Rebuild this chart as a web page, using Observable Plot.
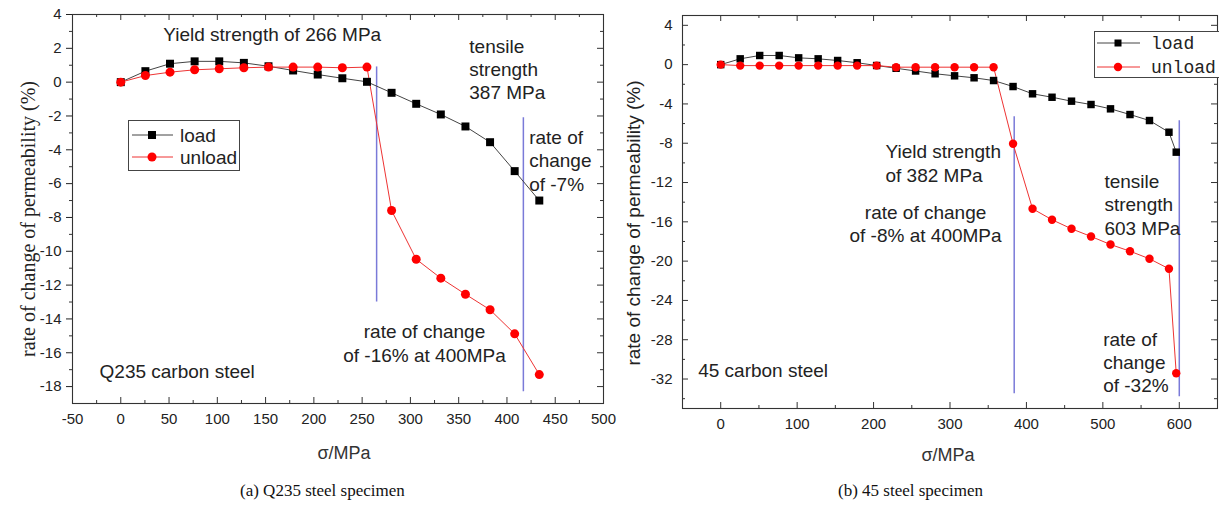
<!DOCTYPE html>
<html><head><meta charset="utf-8">
<script src="https://cdn.jsdelivr.net/npm/d3@7"></script>
<script src="https://cdn.jsdelivr.net/npm/@observablehq/plot@0.6"></script>
<style>
body{margin:0;background:#fff;}
#wrap{position:relative;width:1219px;height:505px;overflow:hidden;background:#fff;}
.panel{position:absolute;top:0;}
.cap{position:absolute;top:481px;font-family:"Liberation Serif","Times New Roman",serif;font-size:17px;line-height:20px;color:#111;white-space:nowrap;}
.legend{position:absolute;overflow:visible;}
</style></head>
<body><div id="wrap">
<div id="left" class="panel" style="left:0"></div>
<div id="right" class="panel" style="left:610px"></div>
<div class="cap" style="left:240px">(a) Q235 steel specimen</div>
<div class="cap" style="left:838px">(b) 45 steel specimen</div>
<svg class="legend" style="left:128px;top:120px" width="112" height="51">
 <rect x="0.5" y="0.5" width="111" height="50" fill="#fff" stroke="#444"/>
 <line x1="4" x2="45" y1="15" y2="15" stroke="#444"/>
 <rect x="20" y="11" width="8" height="8" fill="#000"/>
 <text x="52" y="15" dy="0.35em" font-size="19" font-family="Liberation Sans, Arial, sans-serif" fill="#222">load</text>
 <line x1="4" x2="45" y1="37" y2="37" stroke="#ee3333"/>
 <circle cx="24" cy="37" r="4.5" fill="#ff0000"/>
 <text x="52" y="37" dy="0.35em" font-size="19" font-family="Liberation Sans, Arial, sans-serif" fill="#222">unload</text>
</svg>
<svg class="legend" style="left:1094px;top:31px" width="130" height="47">
 <rect x="0.5" y="0.5" width="132" height="46" fill="#fff" stroke="#444"/>
 <line x1="3" x2="46" y1="12" y2="12" stroke="#444"/>
 <rect x="20.5" y="8.5" width="7" height="7" fill="#000"/>
 <text x="57" y="12" dy="0.35em" font-size="18" font-family="Liberation Mono, Courier New, monospace" fill="#222">load</text>
 <line x1="3" x2="46" y1="36" y2="36" stroke="#ee3333"/>
 <circle cx="24" cy="36" r="4.2" fill="#ff0000"/>
 <text x="57" y="36" dy="0.35em" font-size="18" font-family="Liberation Mono, Courier New, monospace" fill="#222">unload</text>
</svg>
</div>
<script>
// ---------- data: Q235 carbon steel (panel a) ----------
const q235Stress = [0, 25.5, 51, 76.5, 102, 127.5, 153, 178.5, 204, 229.5, 255, 280.5, 306, 331.5, 357, 382.5, 408, 433.5];
const q235Load   = [0, 0.65, 1.09, 1.23, 1.23, 1.14, 0.94, 0.69, 0.45, 0.23, 0.02, -0.63, -1.28, -1.91, -2.62, -3.55, -5.26, -7.0];
const q235Unload = [0, 0.39, 0.59, 0.73, 0.79, 0.85, 0.89, 0.89, 0.89, 0.85, 0.89, -7.59, -10.47, -11.59, -12.54, -13.46, -14.88, -17.29];
// ---------- data: 45 carbon steel (panel b) ----------
const s45Stress = [0, 25.5, 51, 76.5, 102, 127.5, 153, 178.5, 204, 229.5, 255, 280.5, 306, 331.5, 357, 382.5, 408, 433.5, 459, 484.5, 510, 535.5, 561, 586.5, 596];
const s45Load   = [0, 0.59, 0.93, 0.93, 0.69, 0.59, 0.42, 0.19, -0.09, -0.37, -0.65, -0.93, -1.14, -1.34, -1.62, -2.23, -2.97, -3.32, -3.72, -4.06, -4.5, -5.08, -5.69, -6.88, -8.91];
const s45Unload = [0, -0.1, -0.1, -0.1, -0.1, -0.1, -0.1, -0.1, -0.1, -0.26, -0.26, -0.26, -0.26, -0.26, -0.26, -8.06, -14.67, -15.79, -16.71, -17.49, -18.31, -18.99, -19.76, -20.78, -31.41];

// ---------- ticks ----------
const leftXTicks = [-50, 0, 50, 100, 150, 200, 250, 300, 350, 400, 450, 500];
const leftXMinor = [-25, 25, 75, 125, 175, 225, 275, 325, 375, 425, 475];
const leftYTicks = [-18, -16, -14, -12, -10, -8, -6, -4, -2, 0, 2, 4];
const leftYMinor = [-17, -15, -13, -11, -9, -7, -5, -3, -1, 1, 3];
const rightXTicks = [0, 100, 200, 300, 400, 500, 600];
const rightXMinor = [50, 150, 250, 350, 450, 550];
const rightYTicks = [-32, -28, -24, -20, -16, -12, -8, -4, 0, 4];
const rightYMinor = [-34, -30, -26, -22, -18, -14, -10, -6, -2, 2];

// ---------- guide lines and notes ----------
const leftGuides  = [{x: 265, y1: 0.9, y2: -13}, {x: 417, y1: -2.1, y2: -18.3}];
const rightGuides = [{x: 384, y1: -5.3, y2: -33.5}, {x: 600, y1: -5.7, y2: -33.8}];
const leftNotesStart = [
  {x: 44, y: 2.88, text: "Yield strength of 266 MPa"},
  {x: 361, y: 0.81, text: "tensile\nstrength\n387 MPa"},
  {x: 423, y: -4.59, text: "rate of\nchange\nof -7%"},
  {x: -22, y: -17.05, text: "Q235 carbon steel"}
];
const leftNotesMiddle = [{x: 314.6, y: -15.39, text: "rate of change\nof -16% at 400MPa"}];
const rightNotesStart = [
  {x: 215.6, y: -9.96, text: "Yield strength\nof 382 MPa"},
  {x: 502, y: -14.17, text: "tensile\nstrength\n603 MPa"},
  {x: 500.4, y: -30.22, text: "rate of\nchange\nof -32%"},
  {x: -29.5, y: -31.06, text: "45 carbon steel"}
];
const rightNotesMiddle = [{x: 268, y: -16.12, text: "rate of change\nof -8% at 400MPa"}];

const yTitle = "rate of change of permeability (%)";
const xTitle = "σ/MPa";

const SANS = "'Liberation Sans', Arial, sans-serif";
const SERIF = "'Liberation Serif', 'Times New Roman', serif";
const BLUE = "#7a7ad8";
const rows = (xs, ys) => xs.map((s, i) => ({s, v: ys[i]}));

function panel(cfg) {
  const innerW = cfg.width - cfg.ml - cfg.mr;
  const innerH = cfg.height - cfg.mt - cfg.mb;
  const tk = {stroke: "#333", strokeWidth: 1};
  const load = rows(cfg.stress, cfg.load), unload = rows(cfg.stress, cfg.unload);
  const marks = [
    Plot.frame({stroke: "#333", strokeWidth: 1.1}),
    // bottom & top inward ticks
    Plot.ruleX(cfg.xTicks, {x: d => d, insetTop: innerH - 6, ...tk}),
    Plot.ruleX(cfg.xMinor, {x: d => d, insetTop: innerH - 3, ...tk}),
    Plot.ruleX(cfg.xTicks, {x: d => d, insetBottom: innerH - 6, ...tk}),
    Plot.ruleX(cfg.xMinor, {x: d => d, insetBottom: innerH - 3, ...tk}),
    // right inward ticks
    Plot.ruleY(cfg.yTicks, {y: d => d, insetLeft: innerW - 6, ...tk}),
    Plot.ruleY(cfg.yMinor, {y: d => d, insetLeft: innerW - 3, ...tk}),
    // left ticks
    cfg.leftOut
      ? Plot.ruleY(cfg.yMinor, {y: d => d, insetLeft: -3, insetRight: innerW, ...tk})
      : Plot.ruleY(cfg.yMinor, {y: d => d, insetRight: innerW - 3, ...tk}),
    cfg.leftOut ? null : Plot.ruleY(cfg.yTicks, {y: d => d, insetRight: innerW - 6, ...tk}),
    // guide lines
    Plot.ruleX(cfg.guides, {x: "x", y1: "y1", y2: "y2", stroke: BLUE, strokeWidth: 1.5}),
    // series
    Plot.line(load, {x: "s", y: "v", stroke: "#444", strokeWidth: 1}),
    Plot.line(unload, {x: "s", y: "v", stroke: "#ee3333", strokeWidth: 1}),
    Plot.dot(load, {x: "s", y: "v", symbol: "square", r: cfg.r, fill: "#000", stroke: "none"}),
    Plot.dot(unload, {x: "s", y: "v", symbol: "circle", r: cfg.r, fill: "#ff0000", stroke: "none"}),
    // notes
    Plot.text(cfg.notesStart, {x: "x", y: "y", text: "text", textAnchor: "start", lineAnchor: "middle", lineHeight: 1.23, fontSize: 19, fontFamily: SANS, fill: "#222"}),
    Plot.text(cfg.notesMiddle, {x: "x", y: "y", text: "text", textAnchor: "middle", lineAnchor: "middle", lineHeight: 1.23, fontSize: 19, fontFamily: SANS, fill: "#222"}),
    // axis titles
    Plot.text([yTitle], {frameAnchor: "left", rotate: -90, dx: cfg.yTitleDx, dy: cfg.yTitleDy, lineAnchor: "middle", textAnchor: "middle", fontSize: cfg.yTitleSize, fontFamily: cfg.yTitleFont, fill: "#222"}),
    Plot.text([xTitle], {frameAnchor: "bottom", dx: cfg.xTitleDx, dy: cfg.xTitleDy, lineAnchor: "middle", textAnchor: "middle", fontSize: 18, fontFamily: SANS, fill: "#333"})
  ].filter(Boolean);
  return Plot.plot({
    width: cfg.width, height: cfg.height,
    marginLeft: cfg.ml, marginRight: cfg.mr, marginTop: cfg.mt, marginBottom: cfg.mb,
    style: {background: "transparent", fontFamily: SANS, fontSize: "15px", color: "#222", overflow: "visible"},
    x: {domain: cfg.xDomain, ticks: cfg.xTicks, tickSize: 0, tickPadding: 10, tickFormat: d => String(d), label: null},
    y: {domain: cfg.yDomain, ticks: cfg.yTicks, tickSize: cfg.leftOut ? 6 : 0, tickPadding: cfg.leftOut ? 5 : 10, tickFormat: d => String(d), label: null},
    marks
  });
}

document.getElementById("left").append(panel({
  width: 610, height: 470, ml: 72, mr: 7, mt: 14, mb: 67,
  xDomain: [-50, 500], yDomain: [-19, 4],
  xTicks: leftXTicks, xMinor: leftXMinor, yTicks: leftYTicks, yMinor: leftYMinor,
  leftOut: true, r: 4.5,
  stress: q235Stress, load: q235Load, unload: q235Unload,
  guides: leftGuides, notesStart: leftNotesStart, notesMiddle: leftNotesMiddle,
  yTitleDx: -44, yTitleDy: 10, yTitleSize: 20, yTitleFont: SERIF,
  xTitleDx: 6, xTitleDy: 50
}));

document.getElementById("right").append(panel({
  width: 609, height: 470, ml: 72, mr: 2, mt: 15, mb: 62,
  xDomain: [-50, 650], yDomain: [-35, 5],
  xTicks: rightXTicks, xMinor: rightXMinor, yTicks: rightYTicks, yMinor: rightYMinor,
  leftOut: false, r: 4.2,
  stress: s45Stress, load: s45Load, unload: s45Unload,
  guides: rightGuides, notesStart: rightNotesStart, notesMiddle: rightNotesMiddle,
  yTitleDx: -49, yTitleDy: 11, yTitleSize: 19, yTitleFont: SANS,
  xTitleDx: -2, xTitleDy: 47
}));
</script>
</body></html>
